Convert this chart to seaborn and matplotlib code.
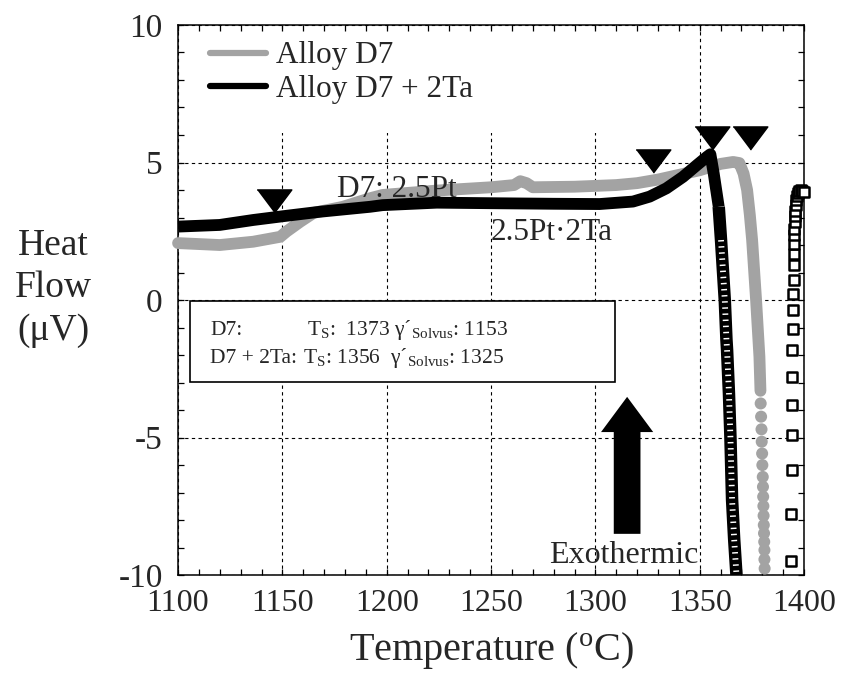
import matplotlib
matplotlib.use("Agg")
import matplotlib.pyplot as plt
import seaborn as sns
from matplotlib.lines import Line2D
from matplotlib.patches import Rectangle
from matplotlib.ticker import MultipleLocator

# Alloy D7 (grey trace)
d7_temp = [1100, 1120, 1136, 1149, 1152, 1158.6, 1165, 1179, 1192, 1198, 1224, 1250,
           1261, 1264, 1267, 1270, 1290, 1310, 1320, 1330, 1340, 1350, 1360, 1366,
           1369, 1371, 1372.7, 1374, 1375.1, 1377.0, 1378.6, 1379.1]
d7_flow = [2.07, 2.0, 2.12, 2.30, 2.49, 2.85, 3.17, 3.39, 3.70, 3.82, 3.98, 4.10,
           4.18, 4.32, 4.25, 4.10, 4.12, 4.18, 4.25, 4.38, 4.55, 4.72, 4.95, 5.02,
           4.98, 4.6, 4.0, 3.1, 2.18, 0.0, -2.06, -3.3]
# grey dots where the trace drops and the points separate
d7_dot_temp = [1379.2, 1379.4, 1379.6, 1379.7, 1379.9, 1380.0, 1380.2, 1380.3, 1380.4,
               1380.5, 1380.6, 1380.7, 1380.8, 1380.9, 1381.0, 1381.0, 1381.1]
d7_dot_flow = [-3.76, -4.24, -4.70, -5.15, -5.58, -6.00, -6.43, -6.79, -7.15,
               -7.49, -7.84, -8.18, -8.48, -8.79, -9.09, -9.43, -9.76]

# Alloy D7 + 2Ta (black trace)
ta_temp = [1100, 1120, 1136, 1150.6, 1168, 1192, 1198, 1224, 1250, 1280, 1302, 1318,
           1326, 1334, 1342, 1348.7, 1353.5, 1355.1, 1356.7, 1359.1]
ta_flow = [2.67, 2.73, 2.91, 3.05, 3.21, 3.39, 3.45, 3.54, 3.52, 3.50, 3.49, 3.58,
           3.76, 4.06, 4.48, 4.91, 5.21, 5.30, 4.60, 3.39]
ta_drop_temp = [1359.1, 1360.2, 1361.2, 1362.0, 1362.8, 1363.1, 1364.0, 1364.7,
                1365.5, 1366.5, 1367.6]
ta_drop_flow = [3.39, 2.18, 0.97, 0.0, -1.45, -1.82, -3.4, -4.97, -7.27, -8.7, -10.0]
# cooling branch near 1400 (open squares)
ta_back_temp = [1393.6, 1393.8, 1394.0, 1394.0, 1394.0, 1394.2, 1394.4, 1394.6, 1394.6,
                1394.8, 1395.0, 1395.0, 1395.0, 1395.2, 1395.3, 1395.4, 1395.5, 1395.6,
                1395.8, 1396.0, 1396.3, 1396.7, 1397.2, 1397.8, 1398.5, 1399.2, 1399.8]
ta_back_flow = [-9.50, -7.77, -6.19, -4.92, -3.83, -2.80, -1.83, -1.04, -0.37,
                0.23, 0.72, 1.26, 1.68, 2.05, 2.35, 2.60, 2.85, 3.05,
                3.25, 3.45, 3.62, 3.78, 3.90, 3.97, 4.00, 3.98, 3.92]

# triangle markers (solvus / solidus picks)
mark_temp = [1146, 1327.6, 1355.8, 1373.9]
mark_flow = [3.6, 5.06, 5.88, 5.88]

grey = "#a3a3a3"

sns.set_theme(style="ticks")
plt.rcParams["font.family"] = ["Liberation Serif", "DejaVu Serif"]
plt.rcParams["mathtext.fontset"] = "custom"
plt.rcParams["mathtext.rm"] = "Liberation Serif"
plt.rcParams["mathtext.it"] = "Liberation Serif:italic"
plt.rcParams["axes.unicode_minus"] = False

fig = plt.figure(figsize=(8.41, 6.75), dpi=100)
ax = fig.add_axes([0.2117, 0.148, 0.7444, 0.815])

sns.lineplot(x=d7_temp, y=d7_flow, ax=ax, color=grey, lw=8.5, sort=False,
             estimator=None, solid_capstyle="round", solid_joinstyle="round",
             clip_on=False, zorder=3)
sns.scatterplot(x=d7_dot_temp, y=d7_dot_flow, ax=ax, color=grey, s=75,
                edgecolor="none", zorder=3)

sns.lineplot(x=ta_temp, y=ta_flow, ax=ax, color="black", lw=8.5, sort=False,
             estimator=None, solid_capstyle="butt", solid_joinstyle="round",
             clip_on=False, zorder=4)
sns.lineplot(x=ta_drop_temp, y=ta_drop_flow, ax=ax, color="black", lw=9, sort=False,
             estimator=None, solid_capstyle="butt", zorder=4)
# white slivers imitate the stacked open squares
ax.plot(ta_drop_temp[1:], ta_drop_flow[1:], color="white", lw=4.2,
        dashes=(0.25, 0.8), zorder=5)
sns.scatterplot(x=ta_back_temp, y=ta_back_flow, ax=ax, marker="s", s=55,
                facecolor="white", edgecolor="black", linewidth=1.8,
                clip_on=False, zorder=4)

tri = [(-1.5, 1), (1.5, 1), (0, -1)]
ax.plot(mark_temp, mark_flow, ls="none", marker=tri, markersize=25,
        color="black", zorder=6)

ax.set_xlim(1100, 1400)
ax.set_ylim(-10, 10)
ax.set_xticks([1100, 1150, 1200, 1250, 1300, 1350, 1400])
ax.set_yticks([-10, -5, 0, 5, 10])
ax.xaxis.set_minor_locator(MultipleLocator(10))
ax.yaxis.set_minor_locator(MultipleLocator(1))
ax.tick_params(which="both", direction="in", top=True, right=True,
               length=4.5, width=0.9, color="black")
ax.tick_params(axis="x", labelsize=23, pad=10)
ax.tick_params(axis="y", labelsize=24, pad=11)
for s in ax.spines.values():
    s.set_color("black")
    s.set_linewidth(1.1)
ax.set_axisbelow(True)
ax.grid(True, which="major", color="black", linestyle=(0, (3, 3)), linewidth=0.8)

# white area behind the legend hides the grid
ax.add_patch(Rectangle((0.012, 0.804), 0.738, 0.183, transform=ax.transAxes,
                       facecolor="white", edgecolor="none", zorder=1))

handles = [Line2D([], [], color=grey, lw=4.5), Line2D([], [], color="black", lw=4.5)]
ax.legend(handles, ["Alloy D7", "Alloy D7 + 2Ta"], loc="upper left",
          bbox_to_anchor=(0.051, 0.97), frameon=False, fontsize=22.5,
          borderaxespad=0, borderpad=0, handlelength=1.8, handletextpad=0.3,
          labelspacing=0.15)

ax.text(1176.3, 3.75, "D7: 2.5Pt", fontsize=22.5, va="baseline", zorder=7)
ax.text(1249.7, 2.18, "2.5Pt\u00b72Ta", fontsize=22.5, va="baseline", zorder=7)

# info box
ax.add_patch(Rectangle((1105.8, -2.99), 203.8, 2.94, facecolor="white",
                       edgecolor="black", lw=1.2, zorder=6))
ax.text(1115.4, -1.27, "D7:", fontsize=15.5, va="baseline", zorder=7)
ax.text(1162, -1.27, r"T$_\mathrm{S}$:  1373 γ´$_\mathrm{Solvus}$: 1153",
        fontsize=15.5, va="baseline", zorder=7)
ax.text(1115.4, -2.29, "D7 + 2Ta:", fontsize=15.5, va="baseline", zorder=7)
ax.text(1160, -2.29, r"T$_\mathrm{S}$: 1356  γ´$_\mathrm{Solvus}$: 1325",
        fontsize=15.5, va="baseline", zorder=7)

ax.arrow(1315.2, -8.5, 0, 4.98, width=12.8, head_width=25, head_length=1.28,
         length_includes_head=True, fc="black", ec="black", lw=0, zorder=6)
ax.text(1313.5, -9.55, "Exothermic", fontsize=23, ha="center", va="baseline",
        zorder=7)

ax.set_xlabel(r"Temperature ($^\mathrm{o}$C)", fontsize=29, labelpad=9)
ax.set_ylabel("")
fig.text(0.063, 0.573, "Heat\nFlow\n(μV)", ha="center", va="center",
         fontsize=27, linespacing=1.3)

fig.savefig("out.png", dpi=100)
